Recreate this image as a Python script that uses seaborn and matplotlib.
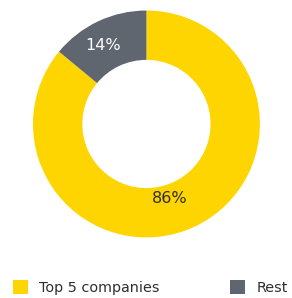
import seaborn as sns
import matplotlib.pyplot as plt
import numpy as np

# data
labels = ["Top 5 companies", "Rest"]
shares = [86, 14]
colors = ["#FFD500", "#5F6670"]
text_colors = ["#2E2E38", "white"]

sns.set_theme(style="white")
plt.rcParams['font.family'] = ['DejaVu Sans']

fig = plt.figure(figsize=(2.92, 2.98), dpi=100)
ax = fig.add_axes([0.113, 0.203, 0.777, 0.762])

wedges, texts, autotexts = ax.pie(
    shares, colors=colors, startangle=90, counterclock=False,
    radius=1, wedgeprops=dict(width=0.435, linewidth=0),
    autopct=lambda p: f"{p:.0f}%", pctdistance=0.785,
    textprops=dict(fontsize=11.5),
)
for t, c in zip(autotexts, text_colors):
    t.set_color(c)

# label positions nudged to match the original layout
for t, a, r in zip(autotexts, [-73, 119], [0.69, 0.795]):
    ang = np.deg2rad(a)
    t.set_position((r * np.cos(ang), r * np.sin(ang)))

ax.set_xlim(-1, 1)
ax.set_ylim(-1, 1)
ax.set_aspect("equal")
ax.axis("off")

fig.legend(
    wedges, labels, loc="lower left", bbox_to_anchor=(13 / 292, 3 / 298),
    ncol=2, frameon=False, fontsize=10.4, handlelength=1.05, handleheight=1.05,
    handletextpad=0.75, columnspacing=4.9, borderpad=0, borderaxespad=0,
    labelcolor="#2E2E38",
)

fig.savefig("out.png", dpi=100, facecolor="white")
